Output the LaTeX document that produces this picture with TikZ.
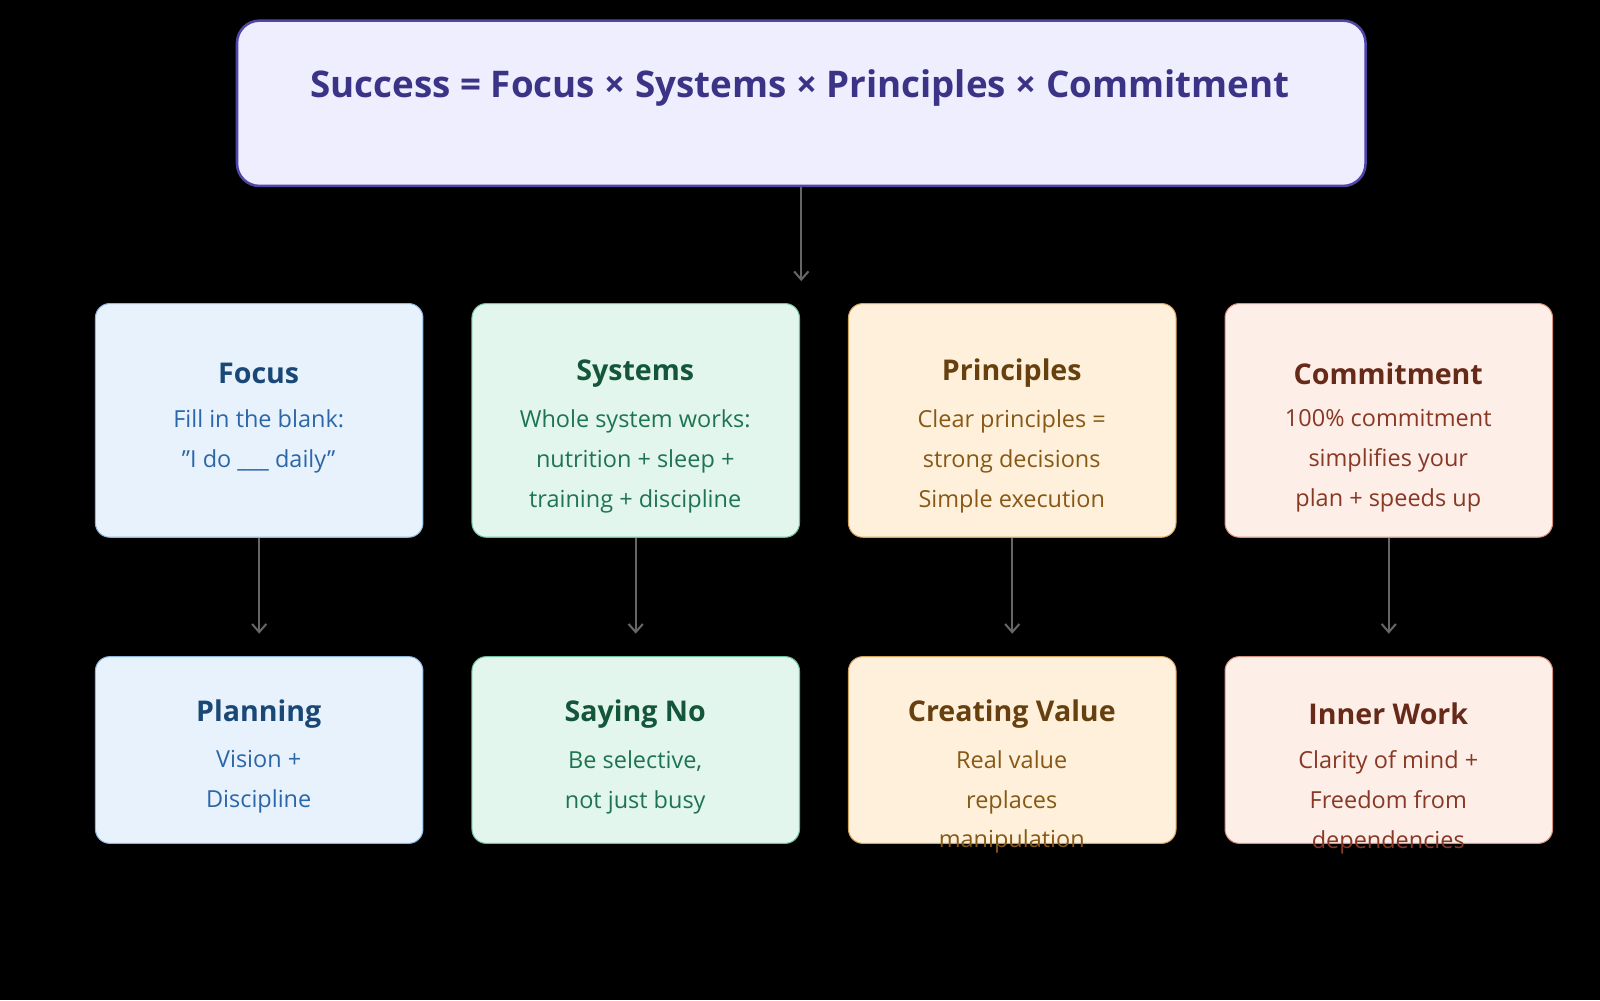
\documentclass[tikz,border=0pt]{standalone}
\usepackage{fontspec}
\setmainfont{Open Sans}
\begin{document}
\begin{tikzpicture}[x=1pt,y=1pt,
 box/.style={draw,rounded corners=14pt,line width=1pt,minimum width=321pt,anchor=north west,inner sep=0pt},
 hd/.style={font=\fontsize{28}{30}\selectfont\bfseries,anchor=center},
 tx/.style={font=\fontsize{23}{39}\selectfont,align=center,anchor=north},
 arr/.style={draw=black!60,line width=2pt,-{Straight Barb[length=8pt,width=14pt]}}]
\usetikzlibrary{arrows.meta}
\fill[black] (0,0) rectangle (1568,980);
\useasboundingbox (0,0) rectangle (1568,980);
\definecolor{tf}{HTML}{EFEEFF}\definecolor{tb}{HTML}{5046A8}\definecolor{tt}{HTML}{3B3486}
\node[draw=tb,fill=tf,line width=2.5pt,rounded corners=22pt,minimum width=1106pt,minimum height=162pt,anchor=north west] (top) at (231,961) {};
\node[text=tt,font=\fontsize{36}{40}\selectfont\bfseries] (tl) at (784,894) {Success = Focus × Systems × Principles × Commitment};
\def\col#1#2#3#4#5#6#7#8#9{%
 \definecolor{f#1}{HTML}{#3}\definecolor{b#1}{HTML}{#4}\definecolor{h#1}{HTML}{#5}\definecolor{t#1}{HTML}{#6}%
 \node[box,fill=f#1,draw=b#1,minimum height=229pt] (a#1) at (#2,683) {};
 \node[box,fill=f#1,draw=b#1,minimum height=183pt] (b#1) at (#2,337) {};
 \node[hd,text=h#1] (ah#1) at (#2+160.5,614) {#7};
 \node[tx,text=t#1] (at#1) at (#2+160.5,582) {#8};
 \node[hd,text=h#1] (bh#1) at (#2+160.5,280) {#9};
 \draw[arr] (a#1.south) -- ([yshift=-94pt]a#1.south);}
\col{1}{93}{E8F2FD}{8CB6E2}{1A4876}{2A66A8}{Focus}{Fill in the blank:\\"I do \_\_\_ daily"}{Planning}
\col{2}{462}{E2F6EE}{6DBF9E}{14563C}{1E7452}{Systems}{Whole system works:\\nutrition + sleep +\\training + discipline}{Saying No}
\col{3}{831}{FEF0DA}{D6A35E}{66400E}{875816}{Principles}{Clear principles =\\strong decisions\\Simple execution}{Creating Value}
\col{4}{1200}{FDEEE8}{D6917C}{682A18}{883824}{Commitment}{100\% commitment\\simplifies your\\plan + speeds up}{Inner Work}
\node[tx,text=t1] (bt1) at (253.5,248) {Vision +\\Discipline};
\node[tx,text=t2] (bt2) at (622.5,248) {Be selective,\\not just busy};
\node[tx,text=t3] (bt3) at (991.5,248) {Real value\\replaces\\manipulation};
\node[tx,text=t4] (bt4) at (1360.5,248) {Clarity of mind +\\Freedom from\\dependencies};
\draw[arr] (top.south) -- ([yshift=-92pt]top.south);
\end{tikzpicture}
\end{document}
